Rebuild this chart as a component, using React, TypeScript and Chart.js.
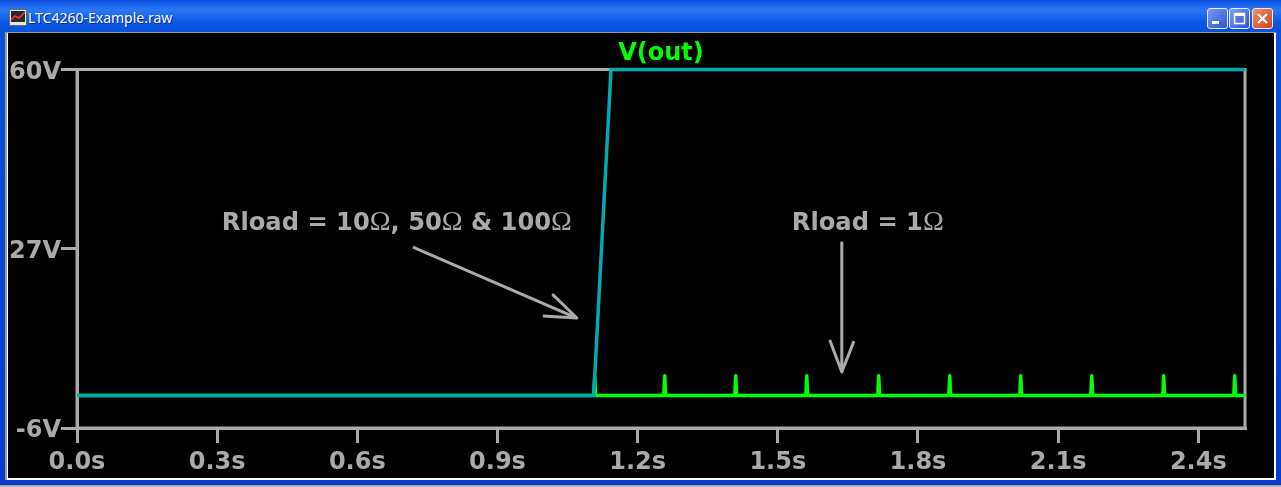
import { useEffect, useRef } from 'react';
import { Chart, Plugin } from 'chart.js/auto';

const timeTicks = [0, 0.3, 0.6, 0.9, 1.2, 1.5, 1.8, 2.1, 2.4];
const voltTicks = [-6, 27, 60];

// Rload = 10, 50, 100 ohm traces sit on top of each other
const highLoadTime = [0, 1.106, 1.143, 2.5];
const highLoadVolts = [0, 0, 60, 60];

// Rload = 1 ohm: flat at 0V with a short retry pulse
const lowLoadTime = [
  0, 1.106, 1.108, 1.11, 1.256, 1.258, 1.26, 1.408, 1.41, 1.412, 1.56, 1.562, 1.564, 1.714, 1.716, 1.718,
  1.866, 1.868, 1.87, 2.018, 2.02, 2.022, 2.17, 2.172, 2.174, 2.324, 2.326, 2.328, 2.476, 2.478, 2.48, 2.5,
];
const lowLoadVolts = [
  0, 0, 3.6, 0, 0, 3.6, 0, 0, 3.6, 0, 0, 3.6, 0, 0, 3.6, 0,
  0, 3.6, 0, 0, 3.6, 0, 0, 3.6, 0, 0, 3.6, 0, 0, 3.6, 0, 0,
];

const arrowOneTime = [0.719, 1.07, 1.019, 1.07, 0.997];
const arrowOneVolts = [27.3, 14.25, 18.5, 14.25, 14.6];
const arrowTwoTime = [1.637, 1.637, 1.612, 1.637, 1.663];
const arrowTwoVolts = [28.1, 4.3, 10, 4.3, 10];

const noteLabels = ['Rload = 10Ω, 50Ω & 100Ω', 'Rload = 1Ω'];
const noteTime = [0.31, 1.53];
const noteVolts = [30.45, 30.45];

const GREY = '#aaaaaa';
const BOLD_FONT = 'bold 24.2px "DejaVu Sans"';
const OMEGA_FONT = '28px "Liberation Serif"';

const toPoints = (xs: number[], ys: number[]) => xs.map((x, i) => ({ x, y: ys[i] }));

const plotFrame: Plugin = {
  id: 'plotFrame',
  beforeDatasetsDraw(chart) {
    const { ctx, chartArea: a } = chart;
    ctx.save();
    ctx.strokeStyle = GREY;
    ctx.lineWidth = 3;
    ctx.strokeRect(a.left, a.top, a.right - a.left, a.bottom - a.top);
    ctx.restore();
  },
};

// the omega comes out in a thin serif in the original, so draw text in runs
const notes: Plugin = {
  id: 'notes',
  afterDatasetsDraw(chart) {
    const { ctx, scales } = chart;
    ctx.save();
    ctx.fillStyle = GREY;
    ctx.textBaseline = 'alphabetic';
    noteLabels.forEach((label, i) => {
      let x = scales.x.getPixelForValue(noteTime[i]);
      const y = scales.y.getPixelForValue(noteVolts[i]);
      label.split(/(Ω)/).forEach((run) => {
        ctx.font = run === 'Ω' ? OMEGA_FONT : BOLD_FONT;
        ctx.fillText(run, x, y);
        x += ctx.measureText(run).width;
      });
    });
    ctx.restore();
  },
};

function TitleBar() {
  const buttons = [
    { left: 1207, bg: 'linear-gradient(135deg,#7d9cf4,#2a54d8)', kind: 'min' },
    { left: 1229, bg: 'linear-gradient(135deg,#7d9cf4,#2a54d8)', kind: 'max' },
    { left: 1252, bg: 'linear-gradient(135deg,#f0906a,#d0401c)', kind: 'close' },
  ];
  return (
    <>
      <svg width={18} height={17} style={{ position: 'absolute', left: 9, top: 9 }}>
        <rect x={0.5} y={0.5} width={17} height={16} fill="#e8e4d8" stroke="#555" strokeDasharray="2 1" />
        <rect x={2} y={2} width={14} height={11} fill="#2a2a2a" />
        <path d="M2 11 L6 7 L10 9 L16 3" stroke="#f33" strokeWidth={1.5} fill="none" />
      </svg>
      <div
        style={{
          position: 'absolute',
          left: 28,
          top: 10,
          color: '#fff',
          font: '14px "Noto Sans", sans-serif',
          lineHeight: '16px',
          textShadow: '1px 1px 0 #0a2a9a',
          whiteSpace: 'nowrap',
        }}
      >
        LTC4260-Example.raw
      </div>
      {buttons.map((b) => (
        <div
          key={b.left}
          style={{
            position: 'absolute',
            left: b.left,
            top: 8,
            width: 19,
            height: 19,
            border: '1px solid #e8eefc',
            borderRadius: 3,
            background: b.bg,
          }}
        >
          <svg width={19} height={19}>
            {b.kind === 'min' && <rect x={4} y={12} width={7} height={3} fill="#fff" />}
            {b.kind === 'max' && <rect x={4.5} y={4.5} width={10} height={10} fill="none" stroke="#fff" strokeWidth={1.5} />}
            {b.kind === 'max' && <rect x={4} y={4} width={11} height={3} fill="#fff" />}
            {b.kind === 'close' && <path d="M5 5 L14 14 M14 5 L5 14" stroke="#fff" strokeWidth={2.2} />}
          </svg>
        </div>
      ))}
    </>
  );
}

export default function App() {
  const canvasRef = useRef<HTMLCanvasElement>(null);

  useEffect(() => {
    if (!canvasRef.current) return;
    const arrowStyle = { borderColor: GREY, borderWidth: 3, borderJoinStyle: 'round' as const };
    const chart = new Chart(canvasRef.current, {
      type: 'line',
      data: {
        datasets: [
          { label: 'V(out) high load', data: toPoints(highLoadTime, highLoadVolts), borderColor: '#00aab0', borderWidth: 3.5 },
          { label: 'V(out) low load', data: toPoints(lowLoadTime, lowLoadVolts), borderColor: '#00ff00', borderWidth: 3.5, borderJoinStyle: 'round' as const },
          { label: 'arrow 1', data: toPoints(arrowOneTime, arrowOneVolts), ...arrowStyle },
          { label: 'arrow 2', data: toPoints(arrowTwoTime, arrowTwoVolts), ...arrowStyle },
        ],
      },
      options: {
        animation: false,
        responsive: false,
        devicePixelRatio: 1,
        parsing: false,
        clip: false,
        elements: { point: { radius: 0 }, line: { tension: 0 } },
        layout: { padding: { right: 29 } },
        plugins: {
          legend: { display: false },
          tooltip: { enabled: false },
          title: {
            display: true,
            text: 'V(out)',
            color: '#00ff00',
            fullSize: false,
            font: { family: 'DejaVu Sans', size: 24, weight: 'bold' },
            padding: { top: 6, bottom: 1.7 },
          },
        },
        scales: {
          x: {
            type: 'linear',
            min: 0,
            max: 2.5,
            afterBuildTicks: (scale) => { scale.ticks = timeTicks.map((value) => ({ value })); },
            afterFit: (scale) => { scale.height = 50; },
            ticks: {
              autoSkip: false,
              maxRotation: 0,
              color: GREY,
              padding: 5,
              font: { family: 'DejaVu Sans', size: 24, weight: 'bold' },
              callback: (v) => `${Number(v).toFixed(1)}s`,
            },
            grid: { drawOnChartArea: false, color: GREY, lineWidth: 3, tickLength: 15 },
            border: { color: GREY, width: 3 },
          },
          y: {
            type: 'linear',
            min: -6,
            max: 60,
            afterBuildTicks: (scale) => { scale.ticks = voltTicks.map((value) => ({ value })); },
            afterFit: (scale) => { scale.width = 69; },
            ticks: {
              autoSkip: false,
              color: GREY,
              padding: 0,
              labelOffset: 3,
              font: { family: 'DejaVu Sans', size: 24, weight: 'bold' },
              callback: (v) => `${v}V`,
            },
            grid: { drawOnChartArea: false, color: GREY, lineWidth: 3, tickLength: 16 },
            border: { color: GREY, width: 3 },
          },
        },
      },
      plugins: [plotFrame, notes],
    });
    return () => chart.destroy();
  }, []);

  return (
    <div
      style={{
        position: 'absolute',
        left: 0,
        top: 0,
        width: 1281,
        height: 487,
        overflow: 'hidden',
        background: 'linear-gradient(180deg,#0a50e0 0,#2a78f4 10px,#0a58e6 22px,#0a50d8 33px,#0a3ad0 100%)',
      }}
    >
      <TitleBar />
      <div style={{ position: 'absolute', left: 5, top: 32, width: 1271, height: 448, background: '#fff', borderLeft: '2px solid #9a9a90', borderTop: '1px solid #9a9a90', boxSizing: 'border-box' }} />
      <canvas ref={canvasRef} width={1266} height={445} style={{ position: 'absolute', left: 8, top: 33, background: '#000' }} />
      <div style={{ position: 'absolute', left: 0, top: 485, width: 1281, height: 2, background: '#b0b0b0' }} />
    </div>
  );
}
